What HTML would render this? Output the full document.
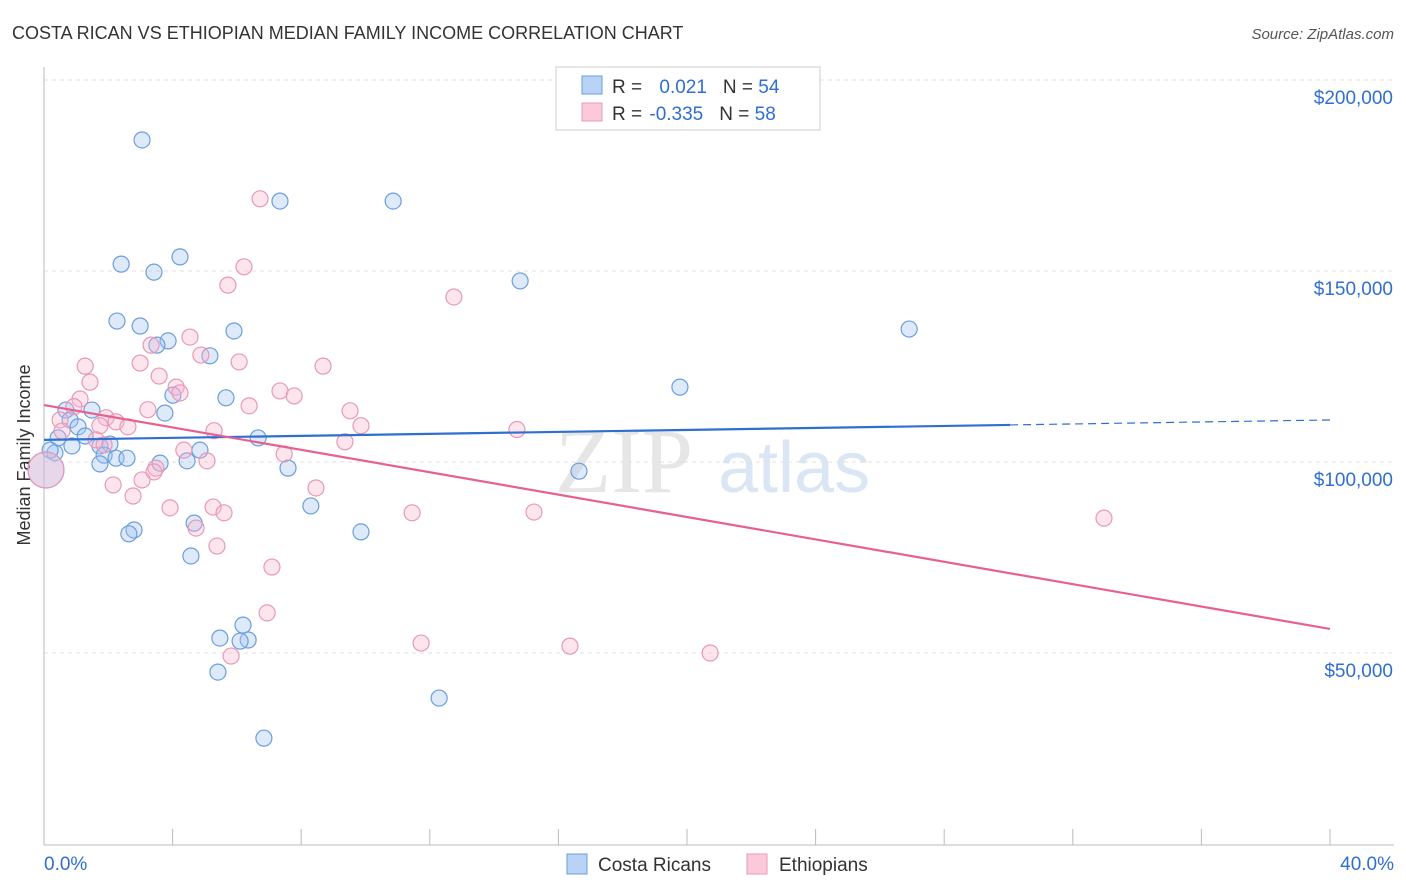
<!DOCTYPE html>
<html><head><meta charset="utf-8"><style>
body{margin:0;background:#fff;font-family:"Liberation Sans",sans-serif;}
svg{display:block}
</style></head><body>
<svg width="1406" height="892" xmlns="http://www.w3.org/2000/svg" id="chart">
<text x="12" y="39" font-size="18" fill="#333">COSTA RICAN VS ETHIOPIAN MEDIAN FAMILY INCOME CORRELATION CHART</text>
<text x="1394" y="39" font-size="15" fill="#555" text-anchor="end" font-style="italic">Source: ZipAtlas.com</text>
<text x="30" y="455" font-size="18" fill="#333" text-anchor="middle" transform="rotate(-90 30 455)">Median Family Income</text>
<g><text x="555" y="492" font-size="92" fill="#e6e6e6" font-family="Liberation Serif">ZIP</text><text x="718" y="492" font-size="72" fill="#dbe6f4">atlas</text></g>
<g id="grid"></g><g id="axes"></g><g id="pts"></g><g id="trends"></g>
<g>
<rect x="556" y="67" width="264" height="63" fill="#fff" stroke="#ccc"/>
<rect x="582" y="76" width="20" height="18" fill="#b8d3f5" stroke="#6a9ee0"/>
<rect x="582" y="103" width="20" height="18" fill="#fbc9d9" stroke="#e899b5"/>
<text x="612" y="93" font-size="19" fill="#333">R = <tspan fill="#2f6fd0" dx="12">0.021</tspan><tspan dx="16">N = </tspan><tspan fill="#2f6fd0">54</tspan></text>
<text x="612" y="120" font-size="19" fill="#333">R = <tspan fill="#2f6fd0" dx="2">-0.335</tspan><tspan dx="16">N = </tspan><tspan fill="#2f6fd0">58</tspan></text>
</g>
<g>
<rect x="567" y="854" width="20" height="20" fill="#b8d3f5" stroke="#6a9ee0"/>
<text x="598" y="871" font-size="19" fill="#333">Costa Ricans</text>
<rect x="747" y="854" width="20" height="20" fill="#fbc9d9" stroke="#e899b5"/>
<text x="779" y="871" font-size="19" fill="#333">Ethiopians</text>
</g>
</svg>
<script>
const yTicks=[50000,100000,150000,200000];
const yTickLabels=["$50,000","$100,000","$150,000","$200,000"];
const xTickLabels=["0.0%","40.0%"];
const blueX=[3.05,7.34,10.86,2.40,3.42,4.23,14.81,2.27,2.99,3.86,3.51,5.91,5.16,26.91,19.78,4.01,5.66,3.76,1.49,0.68,0.81,1.06,0.44,0.34,1.28,1.74,0.87,2.05,1.87,2.24,2.58,1.74,3.61,4.45,4.85,6.66,7.59,16.64,8.30,4.67,2.80,2.64,9.86,4.57,6.19,5.47,6.35,6.10,5.41,12.29,6.84,0.19,0.06];
const blueY=[184.3,168.3,168.3,151.8,149.7,153.7,147.4,136.9,135.6,131.7,130.6,134.3,127.8,134.8,119.6,117.5,116.8,112.8,113.6,113.6,111.0,109.2,106.3,102.4,106.8,104.2,104.2,104.7,101.8,101.0,101.0,99.5,99.7,100.3,103.1,106.3,98.4,97.6,88.5,84.0,82.2,81.2,81.7,75.4,57.3,53.9,53.4,53.1,45.0,38.2,27.7,103.1,97.9];
const pinkX=[6.72,6.22,5.72,12.75,1.28,8.68,3.33,4.54,2.99,6.07,4.88,3.58,1.43,4.11,4.23,7.34,7.78,1.12,6.38,0.93,9.52,3.23,1.93,2.24,2.61,1.74,0.50,0.56,9.86,14.71,9.36,5.29,1.62,1.87,4.35,7.47,5.07,3.48,3.42,3.05,2.15,8.46,2.77,3.92,5.26,5.60,4.73,11.45,15.24,32.97,5.38,7.09,6.94,11.73,16.36,20.72,5.82,0.06];
const pinkY=[168.9,151.1,146.3,143.2,125.1,125.1,130.6,132.7,125.9,126.2,128.0,122.5,120.9,119.6,118.1,118.6,117.3,116.5,114.7,114.5,113.4,113.7,111.6,110.5,109.2,109.5,111.0,108.1,109.5,108.5,105.3,108.2,105.8,104.5,103.1,102.1,100.3,98.4,97.4,95.3,94.0,93.2,91.1,88.0,88.2,86.7,82.7,86.7,86.9,85.3,78.0,72.5,60.5,52.6,51.8,50.0,49.2,97.9];
const blueTrend=[105.8,111.0], pinkTrend=[114.9,56.3];
const NS="http://www.w3.org/2000/svg";
const X=p=>44+p*32.15;
const Y=v=>653-(v-50000)/50000*191;
const Yk=k=>Y(k*1000);
function mk(tag,at,parent){const e=document.createElementNS(NS,tag);for(const k in at)e.setAttribute(k,at[k]);document.getElementById(parent).appendChild(e);return e;}
yTicks.forEach((t,i)=>{
 const g=mk('line',{x1:44,x2:1394,y1:Y(t),y2:Y(t),stroke:'#e2e2e2','stroke-dasharray':'4,4'},'grid');
 
 
 const l=mk('text',{x:1393,y:Y(t)+24,'font-size':19,fill:'#2f6fd0','text-anchor':'end'},'axes');
 l.textContent=yTickLabels[i];
 
 
});
const ax=mk('line',{x1:44,x2:1394,y1:845,y2:845,stroke:'#bbb'},'axes');


const ay=mk('line',{x1:44,x2:44,y1:67,y2:845,stroke:'#bbb'},'axes');


for(let i=1;i<=10;i++){const t=mk('line',{x1:X(i*4),x2:X(i*4),y1:829,y2:845,stroke:'#bbb'},'axes');
 
 }
[[0,'start',44],[40,'end',1394]].forEach((d,i)=>{const t=mk('text',{x:d[2],y:870,'font-size':19,fill:'#2f6fd0','text-anchor':d[1]},'axes');t.textContent=xTickLabels[i];
 
 });
function pts(xs,ys,fill,stroke,name){xs.forEach((x,i)=>{const big=i===xs.length-1;
 const c=mk('circle',{cx:X(x),cy:Yk(ys[i]),r:big?18:8,fill:fill,stroke:stroke,'stroke-width':1.2},'pts');
 
 });}
pts(blueX,blueY,'rgba(160,195,240,0.35)','#6a9ee0','costa-rican-point');
pts(pinkX,pinkY,'rgba(248,180,205,0.35)','#e899b5','ethiopian-point');
const xs=30.05, ys=blueTrend[0]+(blueTrend[1]-blueTrend[0])*xs/40;
const b1=mk('line',{x1:X(0),y1:Yk(blueTrend[0]),x2:X(xs),y2:Yk(ys),stroke:'#2f6fd0','stroke-width':2.2},'trends');


const b2=mk('line',{x1:X(xs),y1:Yk(ys),x2:X(40),y2:Yk(blueTrend[1]),stroke:'#2f6fd0','stroke-width':1.2,'stroke-dasharray':'8,5'},'trends');


const p1=mk('line',{x1:X(0),y1:Yk(pinkTrend[0]),x2:X(40),y2:Yk(pinkTrend[1]),stroke:'#e8608f','stroke-width':2.2},'trends');


</script>
</body></html>
